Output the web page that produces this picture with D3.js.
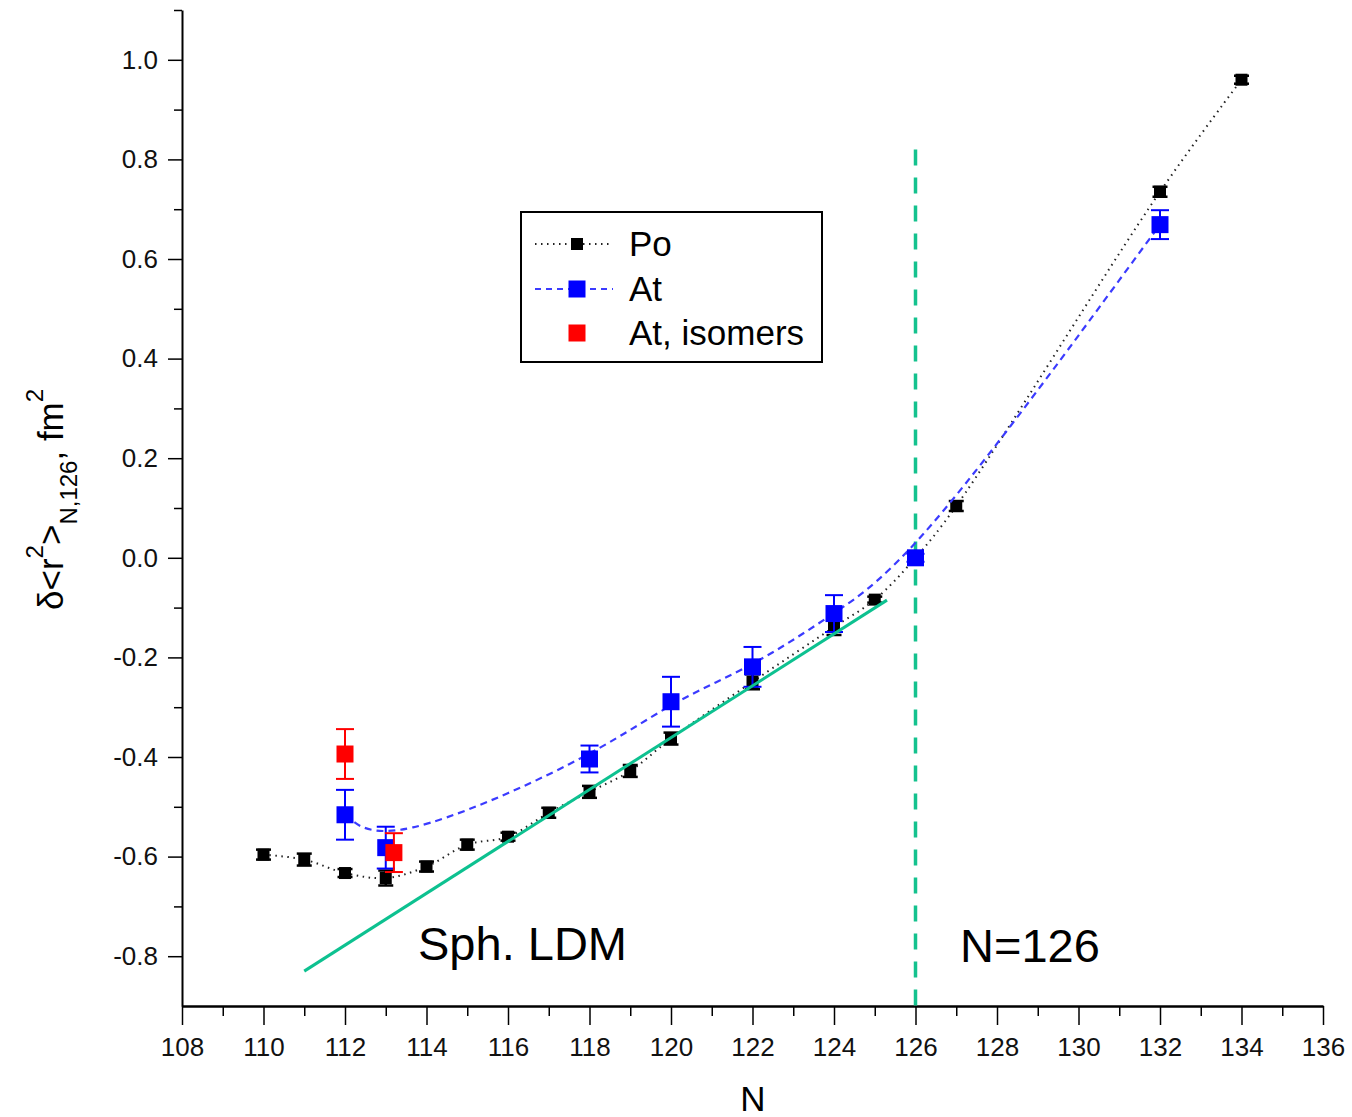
<!DOCTYPE html>
<html>
<head>
<meta charset="utf-8">
<script src="https://cdn.jsdelivr.net/npm/d3@7"></script>
<style>
  body { margin: 0; background: #fff; }
  text { font-family: "Liberation Sans", Arial, sans-serif; }
</style>
</head>
<body>
<div id="chart"></div>
<script>
// Po
var poN = [110, 111, 112, 113, 114, 115, 116, 117, 118, 119, 120, 122, 124, 125, 126, 127, 132, 134]
var poR = [-0.596, -0.606, -0.633, -0.643, -0.62, -0.576, -0.56, -0.512, -0.47, -0.428, -0.363, -0.249, -0.139, -0.084, 0, 0.104, 0.735, 0.96]
var poErr = [0.01, 0.012, 0.008, 0.015, 0.01, 0.01, 0.008, 0.01, 0.012, 0.012, 0.012, 0.015, 0.016, 0.006, 0.006, 0.01, 0.01, 0.008]

// At
var atN = [112, 113, 118, 120, 122, 124, 126, 132]
var atR = [-0.516, -0.582, -0.404, -0.289, -0.219, -0.112, 0, 0.669]
var atErr = [0.05, 0.042, 0.027, 0.05, 0.04, 0.037, 0.008, 0.029]

// At, isomers
var isoN = [112, 113.2]
var isoR = [-0.394, -0.592]
var isoErr = [0.05, 0.039]

// Sph. LDM
var ldmN = [111, 125.3]
var ldmR = [-0.83, -0.085]

var xMajor = d3.range(108, 137, 2)
var xMinor = d3.range(109, 136, 2)
var yMajor = [-0.8, -0.6, -0.4, -0.2, 0, 0.2, 0.4, 0.6, 0.8, 1.0]
var yMinor = [-0.7, -0.5, -0.3, -0.1, 0.1, 0.3, 0.5, 0.7, 0.9, 1.1]

var width = 1352,
  height = 1117

var svg = d3
  .select("#chart")
  .append("svg")
  .attr("width", width)
  .attr("height", height)

var x = d3.scaleLinear().domain([108, 136]).range([182, 1323])
var y = d3.scaleLinear().domain([-0.9, 1.1]).range([1006, 10])

/* ------- AXES -------*/
var xAxis = svg
  .append("g")
  .attr("transform", "translate(0," + y(-0.9) + ")")
  .call(
    d3.axisBottom(x).tickValues(xMajor).tickSize(19).tickSizeOuter(0).tickPadding(13)
      .tickFormat(function(d) { return d })
  )
xAxis.select(".domain").attr("stroke-width", 2.5)
xAxis.selectAll(".tick line").attr("stroke-width", 1.5)
xAxis.selectAll("text").attr("font-size", 26).attr("fill", "#111")

svg
  .append("g")
  .attr("transform", "translate(0," + y(-0.9) + ")")
  .call(d3.axisBottom(x).tickValues(xMinor).tickSize(10).tickSizeOuter(0).tickFormat(""))
  .call(function(g) { g.select(".domain").remove() })
  .selectAll(".tick line").attr("stroke-width", 1.5)

var yAxis = svg
  .append("g")
  .attr("transform", "translate(" + x(108) + ",0)")
  .call(
    d3.axisLeft(y).tickValues(yMajor).tickSize(14).tickSizeOuter(0).tickPadding(10)
      .tickFormat(function(d) { return d.toFixed(1) })
  )
yAxis.select(".domain").attr("stroke-width", 2)
yAxis.selectAll(".tick line").attr("stroke-width", 1.5)
yAxis.selectAll("text").attr("font-size", 26).attr("fill", "#111")

svg
  .append("g")
  .attr("transform", "translate(" + x(108) + ",0)")
  .call(d3.axisLeft(y).tickValues(yMinor).tickSize(8).tickSizeOuter(0).tickFormat(""))
  .call(function(g) { g.select(".domain").remove() })
  .selectAll(".tick line").attr("stroke-width", 1.5)

svg
  .append("text")
  .attr("x", 753)
  .attr("y", 1111)
  .attr("text-anchor", "middle")
  .attr("font-size", 35)
  .text("N")

var yl = svg
  .append("text")
  .attr("transform", "translate(63,610) rotate(-90)")
  .attr("font-size", 35)
yl.append("tspan").text("δ<r")
yl.append("tspan").attr("font-size", 24).attr("dy", -20).text("2")
yl.append("tspan").attr("dy", 20).text(">")
yl.append("tspan").attr("font-size", 24).attr("dy", 14).text("N,126")
yl.append("tspan").attr("dy", -14).text(", fm")
yl.append("tspan").attr("font-size", 24).attr("dy", -20).text("2")

/* ------- N=126 LINE -------*/
svg
  .append("line")
  .attr("x1", x(126)).attr("x2", x(126))
  .attr("y1", y(0.82)).attr("y2", y(-0.9))
  .attr("stroke", "#14c28e")
  .attr("stroke-width", 3.5)
  .attr("stroke-dasharray", "16,12")

/* ------- SERIES -------*/
function errBars(g, ns, rs, es, color, cap, sw) {
  ns.forEach(function(n, i) {
    var cx = x(n)
    g.append("line").attr("x1", cx).attr("x2", cx)
      .attr("y1", y(rs[i] - es[i])).attr("y2", y(rs[i] + es[i]))
      .attr("stroke", color).attr("stroke-width", sw)
    ;[rs[i] - es[i], rs[i] + es[i]].forEach(function(v) {
      g.append("line").attr("x1", cx - cap / 2).attr("x2", cx + cap / 2)
        .attr("y1", y(v)).attr("y2", y(v))
        .attr("stroke", color).attr("stroke-width", sw)
    })
  })
}

function squares(g, ns, rs, color, s) {
  g.selectAll("rect.m")
    .data(ns)
    .enter()
    .append("rect")
    .attr("class", "m")
    .attr("x", function(d) { return x(d) - s / 2 })
    .attr("y", function(d, i) { return y(rs[i]) - s / 2 })
    .attr("width", s)
    .attr("height", s)
    .attr("fill", color)
}

var poLine = d3.line()
  .x(function(d) { return x(d[0]) })
  .y(function(d) { return y(d[1]) })
  .curve(d3.curveCatmullRom)

var atLine = d3.line()
  .x(function(d) { return x(d[0]) })
  .y(function(d) { return y(d[1]) })
  .curve(d3.curveBasis)

var gPo = svg.append("g")
gPo.append("path")
  .attr("d", poLine(d3.zip(poN, poR)))
  .attr("fill", "none")
  .attr("stroke", "#222")
  .attr("stroke-width", 2)
  .attr("stroke-dasharray", "1.5,4.5")
errBars(gPo, poN, poR, poErr, "#000", 15, 2.5)
squares(gPo, poN, poR, "#000", 12)

var gAt = svg.append("g")
gAt.append("path")
  .attr("d", atLine(d3.zip(atN, atR)))
  .attr("fill", "none")
  .attr("stroke", "#3b3bff")
  .attr("stroke-width", 2.2)
  .attr("stroke-dasharray", "7,5")
errBars(gAt, atN, atR, atErr, "#0000ff", 18, 2)
squares(gAt, atN, atR, "#0000ff", 17)

var gIso = svg.append("g")
errBars(gIso, isoN, isoR, isoErr, "#ff0000", 18, 2)
squares(gIso, isoN, isoR, "#ff0000", 17)

/* ------- SPH. LDM -------*/
svg
  .append("path")
  .attr("d", d3.line()
    .x(function(d) { return x(d[0]) })
    .y(function(d) { return y(d[1]) })(d3.zip(ldmN, ldmR)))
  .attr("stroke", "#0dc190")
  .attr("stroke-width", 3)
  .attr("fill", "none")

svg.append("text").attr("x", 418).attr("y", 960).attr("font-size", 47).text("Sph. LDM")
svg.append("text").attr("x", 960).attr("y", 962).attr("font-size", 47).text("N=126")

/* ------- LEGEND -------*/
var legend = svg.append("g")
legend.append("rect")
  .attr("x", 521).attr("y", 212)
  .attr("width", 301).attr("height", 150)
  .attr("fill", "#fff")
  .attr("stroke", "#000")
  .attr("stroke-width", 2)

var legRows = [
  { label: "Po", color: "#000", line: "#222", dash: "1.5,4.5", size: 12 },
  { label: "At", color: "#0000ff", line: "#3b3bff", dash: "6,5", size: 17 },
  { label: "At, isomers", color: "#ff0000", line: null, dash: null, size: 17 },
]
var legY = [244, 289, 333]

legRows.forEach(function(r, i) {
  var ly = legY[i]
  if (r.line) {
    legend.append("line")
      .attr("x1", 535).attr("x2", 613)
      .attr("y1", ly).attr("y2", ly)
      .attr("stroke", r.line)
      .attr("stroke-width", 2)
      .attr("stroke-dasharray", r.dash)
  }
  legend.append("rect")
    .attr("x", 577 - r.size / 2).attr("y", ly - r.size / 2)
    .attr("width", r.size).attr("height", r.size)
    .attr("fill", r.color)
  legend.append("text")
    .attr("x", 629).attr("y", ly + 12)
    .attr("font-size", 35)
    .text(r.label)
})
</script>
</body>
</html>
